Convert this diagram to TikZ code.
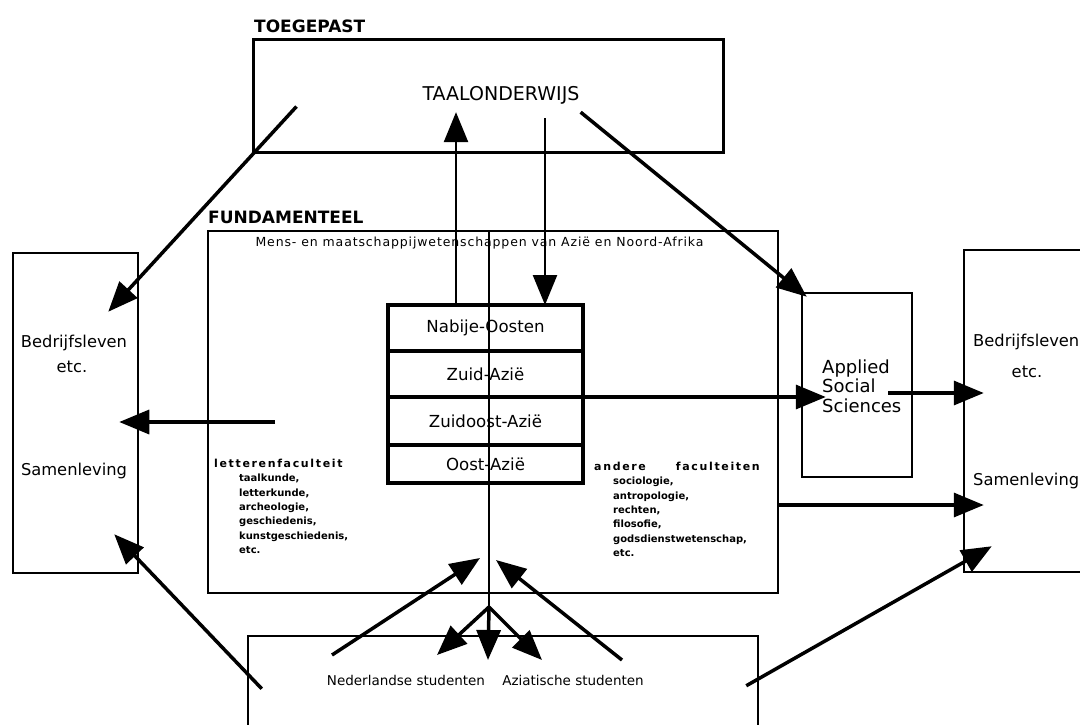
\documentclass[tikz,border=0pt]{standalone}
\usepackage{fontspec}
\setmainfont{DejaVu Sans}
\usetikzlibrary{arrows.meta,positioning}

\begin{document}
\begin{tikzpicture}[
    x=1pt, y=-1pt,
    panel/.style={draw, inner sep=0pt, line width=2.5pt},
    area/.style={draw, line width=3.5pt, outer sep=0pt, inner sep=0pt,
                minimum width=195pt, font=\fontsize{16.6}{19}\selectfont},
    boxtitle/.style={anchor=base west, inner sep=0pt, font=\fontsize{17}{20}\selectfont\bfseries},
    txt/.style={inner sep=0pt, anchor=base, font=\fontsize{16.3}{19.5}\selectfont},
    faclist/.style={inner sep=0pt, anchor=north west, align=left,
                font=\fontsize{10}{14.3}\selectfont\bfseries},
    arrow/.style={line width=3.5pt, -{Triangle[length=30pt, width=24pt]}},
    thinarrow/.style={line width=2.5pt, -{Triangle[length=30pt, width=24pt]}},
    stem/.style={line width=2pt}
]

\useasboundingbox (0,0) rectangle (1080,724);
\clip (0,0) rectangle (1080,724);

\node[panel, line width=3pt, minimum width=470pt, minimum height=113pt] (toeg) at (488,95.5) {};
\node[boxtitle] (toegtitle) at (254,32) {TOEGEPAST};
\node[inner sep=8pt, font=\fontsize{19}{21}\selectfont] (taal) at (501,95) {TAALONDERWIJS};

\node[panel, line width=2pt, minimum width=570pt, minimum height=362pt] (fund) at (493,412) {};
\node[boxtitle] (fundtitle) at (208,223) {FUNDAMENTEEL};
\node[inner sep=0pt, font=\fontsize{12.5}{14}\selectfont\addfontfeature{LetterSpace=7}] (mens) at (479.5,243)
    {Mens- en maatschappijwetenschappen van Azië en Noord-Afrika};

\node[area, minimum height=46pt] (nabije) at (485.5,328) {Nabije-Oosten};
\node[area, minimum height=46pt, below=0pt of nabije] (zuid) {Zuid-Azië};
\node[area, minimum height=48pt, below=0pt of zuid] (zuidoost) {Zuidoost-Azië};
\node[area, minimum height=38pt, below=0pt of zuidoost] (oost) {Oost-Azië};

\node[faclist] (letteren) at (214,459) {{\fontsize{11}{14.3}\selectfont\addfontfeature{LetterSpace=15}letterenfaculteit}\\
    \hspace*{25pt}taalkunde,\\ \hspace*{25pt}letterkunde,\\ \hspace*{25pt}archeologie,\\
    \hspace*{25pt}geschiedenis,\\ \hspace*{25pt}kunstgeschiedenis,\\ \hspace*{25pt}etc.};
\node[faclist] (andere) at (594,462) {{\fontsize{11}{14.3}\selectfont\addfontfeature{LetterSpace=15}andere\hspace*{30pt}faculteiten}\\
    \hspace*{19pt}sociologie,\\ \hspace*{19pt}antropologie,\\ \hspace*{19pt}rechten,\\
    \hspace*{19pt}filosofie,\\ \hspace*{19pt}godsdienstwetenschap,\\ \hspace*{19pt}etc.};

\node[panel, minimum width=110pt, minimum height=184pt] (ass) at (857,385) {};
\node[inner sep=0pt, anchor=west, align=left, font=\fontsize{18}{19.5}\selectfont] (asstext) at (822,386)
    {Applied\\Social\\Sciences};

\node[panel, minimum width=125pt, minimum height=320pt] (lbox) at (75.5,413) {};
\node[txt] (lbedrijf) at (74,347) {Bedrijfsleven};
\node[txt] (letc) at (72,372) {etc.};
\node[txt] (lsamen) at (74,475) {Samenleving};

\node[panel, minimum width=200pt, minimum height=322pt] (rbox) at (1064,411) {};
\node[txt, anchor=base west] (rbedrijf) at (973,346) {Bedrijfsleven};
\node[txt] (retc) at (1027,377) {etc.};
\node[txt, anchor=base west] (rsamen) at (973,485) {Samenleving};

\node[panel, minimum width=510pt, minimum height=128pt] (stud) at (503,700) {};
\node[txt, font=\fontsize{13.5}{16}\selectfont] (neder) at (406,685) {Nederlandse studenten};
\node[txt, font=\fontsize{13.5}{16}\selectfont] (azi) at (573,685) {Aziatische studenten};

\coordinate (split) at (489,607);
\coordinate (splitL) at (437,655);
\coordinate (splitM) at (488,660);
\coordinate (splitR) at (542,660);
\coordinate (stemL) at (480,558);
\coordinate (stemR) at (496,560);

\draw[arrow] ([shift={(45,-47)}]toeg.south west) -- ([shift={(-31,60)}]lbox.north east);
\draw[thinarrow] ([xshift=-29.5pt]nabije.north) -- ([xshift=-45pt]taal.south);
\draw[thinarrow, shorten <=6pt] ([xshift=44pt]taal.south) -- ([xshift=59.5pt]nabije.north);
\draw[arrow] ([xshift=-7pt]taal.south east) -- ([shift={(6,5)}]ass.north west);

\draw[stem] (fund.north -| split) -- (split);
\draw[arrow] (split) -- (splitL);
\draw[arrow] (split) -- (splitM);
\draw[arrow] (split) -- (splitR);
\draw[arrow] ([shift={(-74,-30)}]neder.base) -- (stemL);
\draw[arrow] ([shift={(49,-25)}]azi.base) -- (stemR);

\draw[arrow] ([shift={(61,-37)}]letteren.north west) -- ([shift={(-20,9)}]lbox.east);
\draw[arrow] ([shift={(15,54)}]stud.north west) -- ([shift={(-25,-40)}]lbox.south east);
\draw[arrow] (zuid.south east) -- ([xshift=25pt]zuid.south east -| ass.west);
\draw[arrow] ([shift={(31,8)}]ass.center) -- ([shift={(21,8)}]ass.center -| rbox.west);
\draw[arrow] ([yshift=-93pt]fund.east) -- ([shift={(21,93)}]fund.east -| rbox.west);
\draw[arrow] ([shift={(-13,51)}]stud.north east) -- ([shift={(29,-27)}]rbox.south west);

\end{tikzpicture}
\end{document}
